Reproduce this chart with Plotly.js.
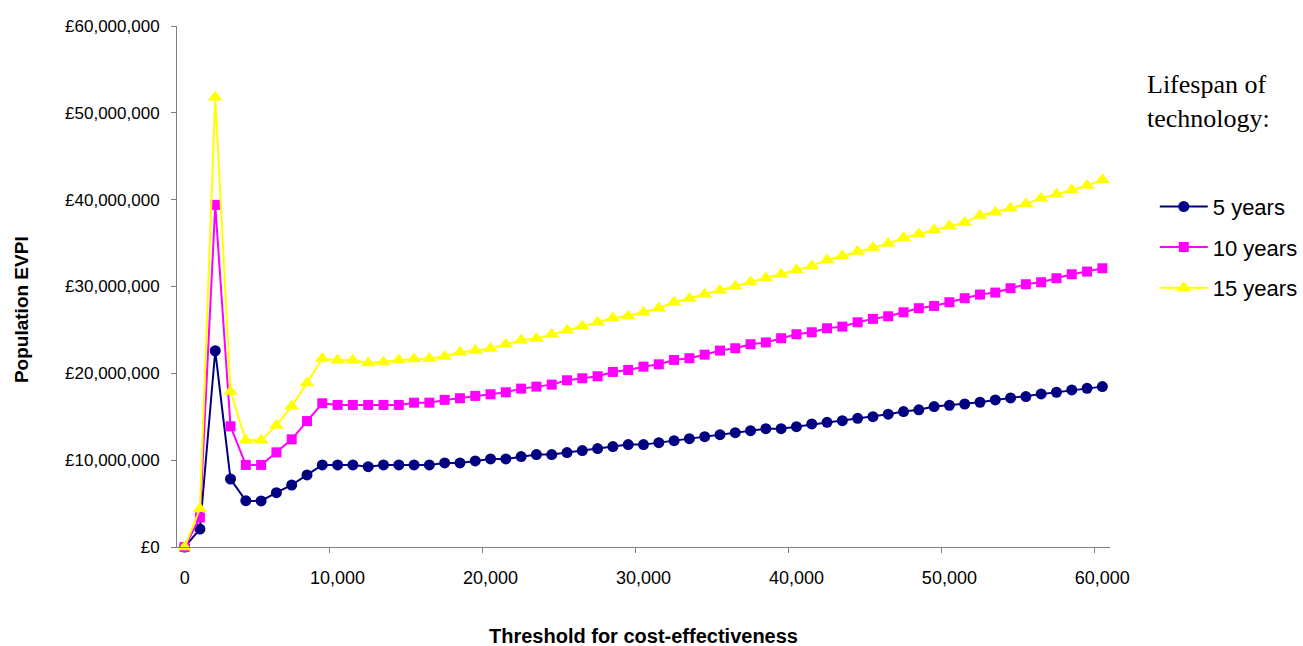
<!DOCTYPE html>
<html>
<head>
<meta charset="utf-8">
<script src="https://cdn.plot.ly/plotly-3.0.1.min.js"></script>
<style>html,body{margin:0;padding:0;background:#fff;}#chart{width:1303px;height:646px;}</style>
</head>
<body>
<div id="chart"></div>
<script>
const thresholds = [0,1000,2000,3000,4000,5000,6000,7000,8000,9000,10000,11000,12000,13000,14000,15000,16000,17000,18000,19000,20000,21000,22000,23000,24000,25000,26000,27000,28000,29000,30000,31000,32000,33000,34000,35000,36000,37000,38000,39000,40000,41000,42000,43000,44000,45000,46000,47000,48000,49000,50000,51000,52000,53000,54000,55000,56000,57000,58000,59000,60000];

const evpi5 = [0,2070000,22600000,7830000,5330000,5300000,6260000,7140000,8300000,9450000,9450000,9450000,9250000,9450000,9450000,9450000,9450000,9680000,9680000,9910000,10140000,10140000,10410000,10640000,10640000,10870000,11100000,11330000,11560000,11790000,11790000,12020000,12250000,12480000,12710000,12940000,13170000,13400000,13630000,13630000,13860000,14170000,14360000,14550000,14820000,15010000,15290000,15600000,15800000,16170000,16320000,16470000,16670000,16940000,17170000,17320000,17630000,17820000,18090000,18280000,18470000];

const evpi10 = [0,3400000,39400000,13900000,9450000,9450000,10900000,12400000,14500000,16550000,16360000,16360000,16360000,16360000,16360000,16620000,16620000,16940000,17130000,17400000,17590000,17820000,18240000,18470000,18700000,19200000,19430000,19660000,20160000,20390000,20770000,21040000,21540000,21740000,22150000,22620000,22890000,23350000,23560000,24040000,24500000,24730000,25190000,25380000,25880000,26270000,26570000,27030000,27500000,27760000,28190000,28650000,29070000,29300000,29800000,30260000,30490000,30950000,31410000,31720000,32100000];

const evpi15 = [0,4400000,51800000,17900000,12300000,12300000,14000000,16200000,18900000,21700000,21500000,21500000,21200000,21300000,21540000,21660000,21700000,21930000,22430000,22620000,22850000,23350000,23810000,24000000,24500000,24960000,25420000,25890000,26380000,26610000,27030000,27500000,28190000,28610000,29110000,29570000,30030000,30530000,30970000,31410000,31910000,32370000,33060000,33530000,34020000,34480000,34940000,35600000,36060000,36520000,36980000,37360000,38170000,38560000,39020000,39520000,40170000,40630000,41130000,41620000,42280000];

const seriesNames = ["5 years", "10 years", "15 years"];
const xTickVals = [0,10000,20000,30000,40000,50000,60000];
const xTickText = ["0","10,000","20,000","30,000","40,000","50,000","60,000"];
const xTickMarks = [9500,19500,29500,39500,49500,59500];
const yTickVals = [0,10000000,20000000,30000000,40000000,50000000,60000000];
const yTickText = ["£0","£10,000,000","£20,000,000","£30,000,000","£40,000,000","£50,000,000","£60,000,000"];

const font = "Arial, 'Liberation Sans', sans-serif";

function mk(y, name, color, symbol, size, group) {
  return {
    x: thresholds, y: y, name: name, type: 'scatter', mode: 'lines+markers',
    line: {color: color, width: 2},
    marker: {color: color, symbol: symbol, size: size, line: {width: 0}},
    cliponaxis: false, legendgroup: group
  };
}

const data = [
  mk(evpi5, seriesNames[0], '#000080', 'circle', 11, 'a'),
  mk(evpi10, seriesNames[1], '#FF00FF', 'square', 10, 'b'),
  mk(evpi15, seriesNames[2], '#FFFF00', 'triangle-up', 13, 'c')
];

const layout = {
  width: 1303, height: 646,
  margin: {l: 177, r: 193, t: 26, b: 99, autoexpand: false},
  paper_bgcolor: '#ffffff', plot_bgcolor: '#ffffff',
  font: {family: font, size: 17, color: '#000000'},
  showlegend: true,
  legend: {
    x: 1.048, xanchor: 'left', xref: 'paper',
    y: 0.6935, yanchor: 'top',
    font: {family: font, size: 22, color: '#000000'},
    itemwidth: 48, tracegroupgap: 9, traceorder: 'grouped',
    bgcolor: 'rgba(0,0,0,0)'
  },
  xaxis: {
    range: [-500, 60500], tickvals: xTickVals, ticktext: xTickText,
    ticks: '', showgrid: false, zeroline: false,
    showline: true, linecolor: '#808080', linewidth: 1,
    tickfont: {family: font, size: 18, color: '#000000'},
    ticklabelstandoff: 14, fixedrange: true
  },
  xaxis2: {
    range: [-500, 60500], overlaying: 'x', anchor: 'y', side: 'bottom',
    tickvals: xTickMarks, ticks: 'outside', ticklen: 5, tickcolor: '#808080', tickwidth: 1,
    showticklabels: false, showgrid: false, zeroline: false, showline: false
  },
  yaxis: {
    range: [0, 60000000], tickvals: yTickVals, ticktext: yTickText,
    ticks: 'outside', ticklen: 5, tickcolor: '#808080', tickwidth: 1,
    showgrid: false, zeroline: false,
    showline: true, linecolor: '#808080', linewidth: 1,
    tickfont: {family: font, size: 17, color: '#000000'},
    ticklabelstandoff: 8
  },
  annotations: [
    {text: '<b>Threshold for cost-effectiveness</b>', xref: 'paper', yref: 'paper',
     x: 0.5, y: -0.17, xanchor: 'center', yanchor: 'middle', showarrow: false,
     font: {family: font, size: 20, color: '#000000'}},
    {text: '<b>Population EVPI</b>', xref: 'paper', yref: 'paper',
     x: -0.166, y: 0.455, xanchor: 'center', yanchor: 'middle', showarrow: false, textangle: -90,
     font: {family: font, size: 19, color: '#000000'}},
    {text: 'Lifespan of<br>technology:', xref: 'paper', yref: 'paper',
     x: 1.038, y: 0.920, xanchor: 'left', yanchor: 'top', align: 'left', showarrow: false,
     font: {family: "'Times New Roman', 'Liberation Serif', serif", size: 26, color: '#000000'}}
  ]
};

data.push({x: [0], y: [0], xaxis: 'x2', yaxis: 'y', mode: 'markers', marker: {opacity: 0}, showlegend: false, hoverinfo: 'skip'});

Plotly.newPlot('chart', data, layout, {displayModeBar: false, staticPlot: true});
</script>
</body>
</html>
